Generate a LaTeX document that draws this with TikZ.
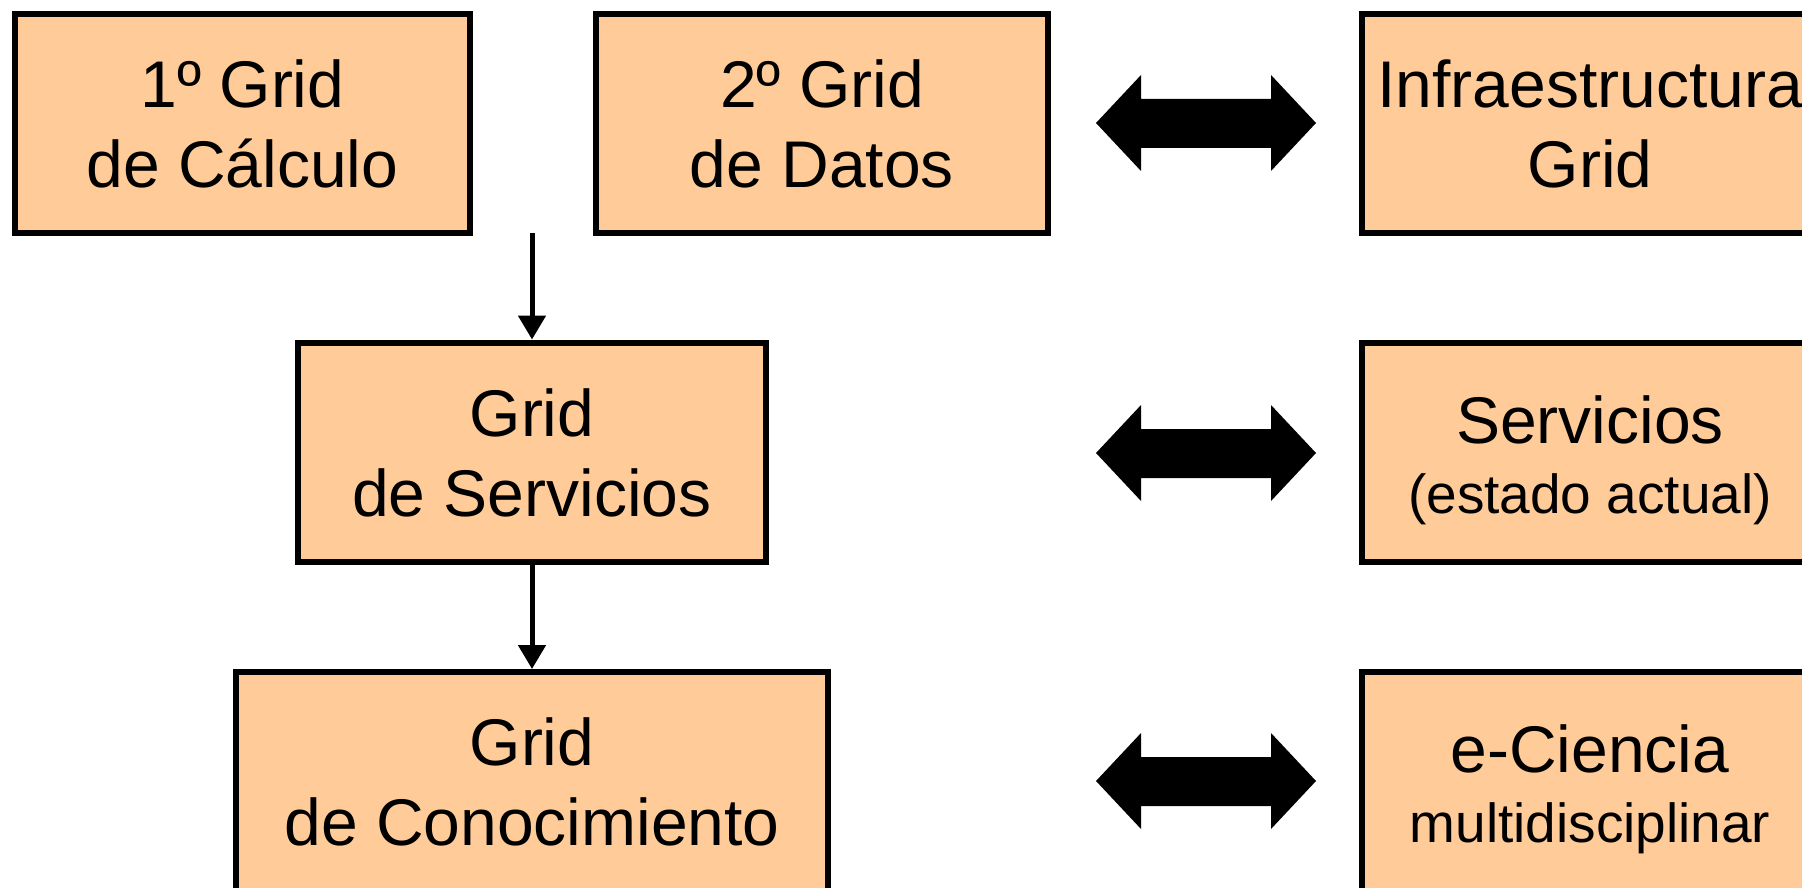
\documentclass[tikz,border=0pt]{standalone}
\usepackage{fontspec}
\setmainfont{Liberation Sans}
\usetikzlibrary{arrows.meta}
\definecolor{peach}{HTML}{FFCC99}
\tikzset{
  gbox/.style={draw=black, line width=6pt, fill=peach, rectangle, inner sep=0pt,
    minimum height=219pt, font=\fontsize{66}{80}\selectfont},
  downarrow/.style={line width=5pt, -{Triangle[width=27pt,length=24pt]}},
  blockarrow/.style={fill=black, draw=none}
}
\newcommand{\smalltxt}{\fontsize{55}{62}\selectfont}
% two centred lines, baselines raised #1 and #3 above the node centre
\newcommand{\twoln}[4]{%
  \makebox[0pt]{\raisebox{#1}[0pt][0pt]{#2}}\makebox[0pt]{\raisebox{#3}[0pt][0pt]{#4}}}
\newcommand{\dblarrow}[1]{%
  \fill[blockarrow] (1096,#1) -- (1141,#1-48) -- (1141,#1-24) -- (1271,#1-24) -- (1271,#1-48)
    -- (1316,#1) -- (1271,#1+48) -- (1271,#1+25) -- (1141,#1+25) -- (1141,#1+48) -- cycle;}
\begin{document}
\begin{tikzpicture}[x=1pt,y=-1pt]
\useasboundingbox (0,0) rectangle (1802,888);
\node[gbox, minimum width=455pt] (calc) at (242.5,123.5) {\twoln{16pt}{1º Grid}{-64pt}{de Cálculo}};
\node[gbox, minimum width=452pt] (datos) at (822,123.5) {\twoln{16pt}{2º Grid}{-64pt}{de Datos}};
\node[gbox, minimum width=456pt] (infra) at (1590,123.5) {\twoln{16pt}{Infraestructura}{-64pt}{Grid}};
\node[gbox, minimum width=468pt] (serv) at (532,452) {\twoln{16pt}{Grid}{-64pt}{de Servicios}};
\node[gbox, minimum width=456pt] (servr) at (1590,452) {\twoln{9pt}{Servicios}{-61pt}{\smalltxt(estado actual)}};
\node[gbox, minimum width=592pt] (cono) at (532,781.5) {\twoln{16pt}{Grid}{-64pt}{de Conocimiento}};
\node[gbox, minimum width=456pt] (cien) at (1590,781.5) {\twoln{9pt}{e-Ciencia}{-61pt}{\smalltxt multidisciplinar}};
\coordinate (start) at (532,233);
\draw[downarrow] (start) -- (serv.north);
\draw[downarrow] (serv.south) -- (cono.north);
\dblarrow{123}
\dblarrow{453}
\dblarrow{781}
\end{tikzpicture}
\end{document}
